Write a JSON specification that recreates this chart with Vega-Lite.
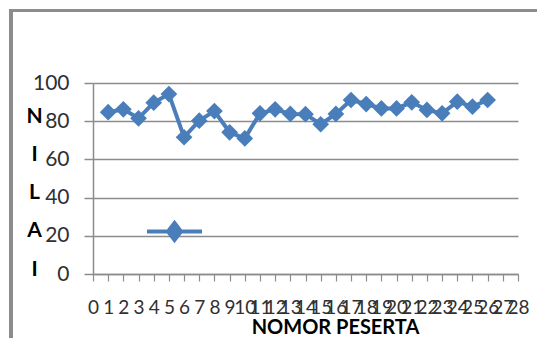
{
  "$schema": "https://vega.github.io/schema/vega-lite/v6.json",
  "autosize": {"type": "none"},
  "width": 425,
  "height": 191,
  "padding": {"left": 93, "top": 83, "right": 19, "bottom": 64},
  "background": "white",
  "config": {
    "view": {"stroke": null},
    "font": "Lato"
  },
  "data": {
    "values": [
      {"n": 1, "v": 84.7, "s": "NILAI"},
      {"n": 2, "v": 86.2, "s": "NILAI"},
      {"n": 3, "v": 81.5, "s": "NILAI"},
      {"n": 4, "v": 89.7, "s": "NILAI"},
      {"n": 5, "v": 94.2, "s": "NILAI"},
      {"n": 6, "v": 71.6, "s": "NILAI"},
      {"n": 7, "v": 80.3, "s": "NILAI"},
      {"n": 8, "v": 85.3, "s": "NILAI"},
      {"n": 9, "v": 74.2, "s": "NILAI"},
      {"n": 10, "v": 71.0, "s": "NILAI"},
      {"n": 11, "v": 84.1, "s": "NILAI"},
      {"n": 12, "v": 86.2, "s": "NILAI"},
      {"n": 13, "v": 83.8, "s": "NILAI"},
      {"n": 14, "v": 83.7, "s": "NILAI"},
      {"n": 15, "v": 78.4, "s": "NILAI"},
      {"n": 16, "v": 83.8, "s": "NILAI"},
      {"n": 17, "v": 91.1, "s": "NILAI"},
      {"n": 18, "v": 89.0, "s": "NILAI"},
      {"n": 19, "v": 86.7, "s": "NILAI"},
      {"n": 20, "v": 86.7, "s": "NILAI"},
      {"n": 21, "v": 89.9, "s": "NILAI"},
      {"n": 22, "v": 85.9, "s": "NILAI"},
      {"n": 23, "v": 84.1, "s": "NILAI"},
      {"n": 24, "v": 90.2, "s": "NILAI"},
      {"n": 25, "v": 87.6, "s": "NILAI"},
      {"n": 26, "v": 91.1, "s": "NILAI"}
    ]
  },
  "resolve": {"axis": {"x": "independent", "y": "independent"}},
  "layer": [
    {
      "mark": {"type": "rule", "clip": false, "stroke": "#8c8c8c", "strokeWidth": 2.5},
      "encoding": {
        "x": {"datum": -5.4, "type": "quantitative", "axis": null, "scale": {"domain": [0, 28], "nice": false, "zero": false}},
        "y": {"datum": 138.1, "type": "quantitative", "axis": null, "scale": {"domain": [0, 100], "nice": false}},
        "y2": {"datum": -100}
      }
    },
    {
      "mark": {"type": "rule", "clip": false, "stroke": "#8c8c8c", "strokeWidth": 2.5},
      "encoding": {
        "x": {"datum": -5.48, "type": "quantitative", "axis": null, "scale": {"domain": [0, 28], "nice": false, "zero": false}},
        "x2": {"datum": 60},
        "y": {"datum": 138.1, "type": "quantitative", "axis": null, "scale": {"domain": [0, 100], "nice": false}}
      }
    },
    {
      "mark": {
        "type": "line",
        "strokeWidth": 4,
        "point": {"filled": true, "shape": "diamond", "size": 280, "opacity": 1}
      },
      "encoding": {
        "x": {
          "field": "n",
          "type": "quantitative",
          "scale": {"domain": [0, 28], "nice": false, "zero": false},
          "axis": {
            "values": [0,1,2,3,4,5,6,7,8,9,10,11,12,13,14,15,16,17,18,19,20,21,22,23,24,25,26,27,28],
            "grid": false,
            "domainColor": "#8c8c8c",
            "domainWidth": 1.5,
            "tickColor": "#8c8c8c",
            "tickWidth": 1.2,
            "tickSize": 7,
            "labelFont": "Lato",
            "labelFontSize": 19,
            "labelColor": "#303030",
            "labelPadding": 17,
            "labelOverlap": false,
            "labelFlush": false,
            "labelBound": false,
            "title": "NOMOR PESERTA",
            "titleFont": "Lato",
            "titleFontSize": 20,
            "titleFontWeight": "bold",
            "titleColor": "#000000",
            "titleAlign": "center",
            "titleBaseline": "alphabetic",
            "titleX": 242,
            "titleY": 59
          }
        },
        "y": {
          "field": "v",
          "type": "quantitative",
          "scale": {"domain": [0, 100], "nice": false},
          "axis": {
            "values": [0, 20, 40, 60, 80, 100],
            "grid": true,
            "gridColor": "#8c8c8c",
            "gridWidth": 1.5,
            "domainColor": "#8c8c8c",
            "domainWidth": 1.5,
            "tickColor": "#8c8c8c",
            "tickWidth": 1.5,
            "tickSize": 9,
            "labelFont": "Lato",
            "labelFontSize": 21,
            "labelColor": "#303030",
            "labelPadding": 15,
            "title": ["N", "I", "L", "A", "I"],
            "titleFont": "Lato",
            "titleFontSize": 21,
            "titleFontWeight": "bold",
            "titleColor": "#000000",
            "titleAngle": 0,
            "titleAlign": "center",
            "titleBaseline": "alphabetic",
            "titleLineHeight": 38.3,
            "titleX": -59,
            "titleY": 39
          }
        },
        "color": {
          "field": "s",
          "type": "nominal",
          "scale": {"range": ["#4a7ebb"]},
          "legend": {
            "title": null,
            "orient": "none",
            "legendX": 52,
            "legendY": 119,
            "padding": 0,
            "labelExpr": "''",
            "symbolType": "M-1,0L1,0M0,-0.31L0.236,0L0,0.31L-0.236,0Z",
            "symbolSize": 3025,
            "symbolStrokeWidth": 4,
            "encode": {
              "symbols": {
                "update": {
                  "fill": {"value": "#4a7ebb"},
                  "stroke": {"value": "#4a7ebb"},
                  "strokeWidth": {"value": 4},
                  "opacity": {"value": 1}
                }
              }
            }
          }
        }
      }
    }
  ]
}
